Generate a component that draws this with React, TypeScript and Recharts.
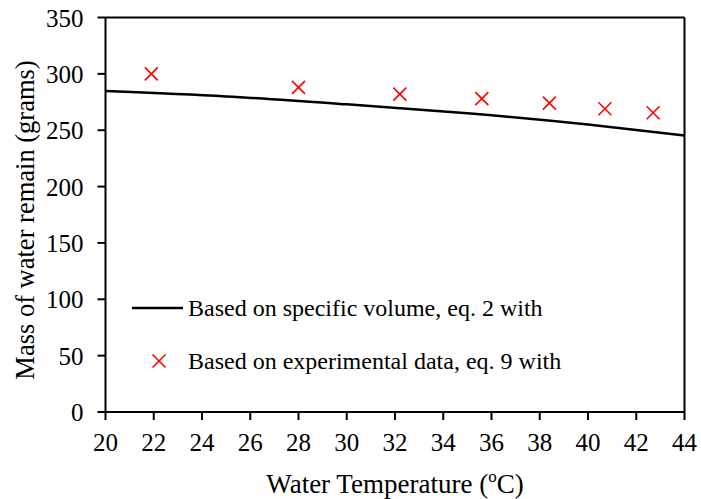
import React from 'react';
import {
  ComposedChart,
  Line,
  Scatter,
  XAxis,
  YAxis,
  ReferenceLine,
  Label,
} from 'recharts';

// Model curve (specific volume, eq. 2)
const modelTemps = [20, 25, 30, 35, 40, 44];
const modelMass = [284.7, 280, 273, 265, 255, 245.4];

// Experimental points (eq. 9)
const expTemps = [21.9, 28, 32.2, 35.6, 38.4, 40.7, 42.7];
const expMass = [300, 288, 282, 278, 274, 269, 265.5];

const xTicks = [20, 22, 24, 26, 28, 30, 32, 34, 36, 38, 40, 42, 44];
const yTicks = [0, 50, 100, 150, 200, 250, 300, 350];

const modelData = modelTemps.map((t, i) => ({ t, mass: modelMass[i] }));
const expData = expTemps.map((t, i) => ({ t, mass: expMass[i] }));

const FONT = '"Liberation Serif", "Times New Roman", serif';

const Cross = (props: any) => {
  const { cx, cy } = props;
  const s = 6.5;
  return (
    <g stroke="#ff0000" strokeWidth={1.6}>
      <line x1={cx - s} y1={cy - s} x2={cx + s} y2={cy + s} />
      <line x1={cx - s} y1={cy + s} x2={cx + s} y2={cy - s} />
    </g>
  );
};

const XTick = (p: any) => (
  <text x={p.x} y={p.y} dy={29} textAnchor="middle" fontSize={25} fontFamily={FONT} fill="#000">
    {p.payload.value}
  </text>
);

const YTick = (p: any) => (
  <text x={p.x - 12} y={p.y} dy={9} textAnchor="end" fontSize={25} fontFamily={FONT} fill="#000">
    {p.payload.value}
  </text>
);

const rowStyle: React.CSSProperties = {
  position: 'absolute',
  left: 132,
  height: 30,
  display: 'flex',
  alignItems: 'center',
  fontFamily: FONT,
  fontSize: 24,
  color: '#000',
  whiteSpace: 'nowrap',
};

const LegendBox = () => (
  <>
    <div style={{ ...rowStyle, top: 293 }}>
      <svg width={56} height={10}>
        <line x1={0} y1={5} x2={51} y2={5} stroke="#000" strokeWidth={2.5} />
      </svg>
      <span>Based on specific volume, eq. 2 with</span>
    </div>
    <div style={{ ...rowStyle, top: 346 }}>
      <svg width={56} height={16}>
        <g stroke="#ff0000" strokeWidth={1.6}>
          <line x1={20.5} y1={1.5} x2={33.5} y2={14.5} />
          <line x1={20.5} y1={14.5} x2={33.5} y2={1.5} />
        </g>
      </svg>
      <span>Based on experimental data, eq. 9 with</span>
    </div>
  </>
);

export default function App() {
  return (
    <div
      style={{
        position: 'fixed',
        left: 0,
        top: 0,
        width: 701,
        height: 499,
        background: '#fff',
        fontFamily: FONT,
      }}
    >
      <ComposedChart
        width={701}
        height={499}
        margin={{ top: 17.5, right: 16.5, bottom: 7, left: 0 }}
      >
        <XAxis
          dataKey="t"
          type="number"
          domain={[20, 44]}
          ticks={xTicks}
          allowDataOverflow
          height={80}
          stroke="#000"
          strokeWidth={2}
          tickSize={8}
          tick={<XTick />}
        >
          <Label
            content={(p: any) => {
              const vb = p.viewBox;
              return (
                <text
                  x={vb.x + vb.width / 2}
                  y={vb.y + 81}
                  textAnchor="middle"
                  fontSize={27}
                  fontFamily={FONT}
                  fill="#000"
                >
                  Water Temperature (
                  <tspan fontSize={17} dy={-11}>o</tspan>
                  <tspan dy={11}>C)</tspan>
                </text>
              );
            }}
          />
        </XAxis>
        <YAxis
          dataKey="mass"
          type="number"
          domain={[0, 350]}
          ticks={yTicks}
          width={105.5}
          stroke="#000"
          strokeWidth={2}
          tickSize={8}
          tick={<YTick />}
        >
          <Label
            content={() => {
              const cx = 25;
              const cy = 220;
              return (
                <text
                  x={cx}
                  y={cy}
                  transform={`rotate(-90, ${cx}, ${cy})`}
                  textAnchor="middle"
                  dominantBaseline="central"
                  fontSize={26.5}
                  fontFamily={FONT}
                  fill="#000"
                >
                  Mass of water remain (grams)
                </text>
              );
            }}
          />
        </YAxis>
        <ReferenceLine y={350} stroke="#000" strokeWidth={2} />
        <ReferenceLine x={44} stroke="#000" strokeWidth={2} />
        <Line
          data={modelData}
          dataKey="mass"
          type="monotone"
          stroke="#000"
          strokeWidth={2.5}
          dot={false}
          activeDot={false}
          isAnimationActive={false}
        />
        <Scatter
          data={expData}
          dataKey="mass"
          shape={<Cross />}
          isAnimationActive={false}
        />
      </ComposedChart>
      <LegendBox />
    </div>
  );
}
